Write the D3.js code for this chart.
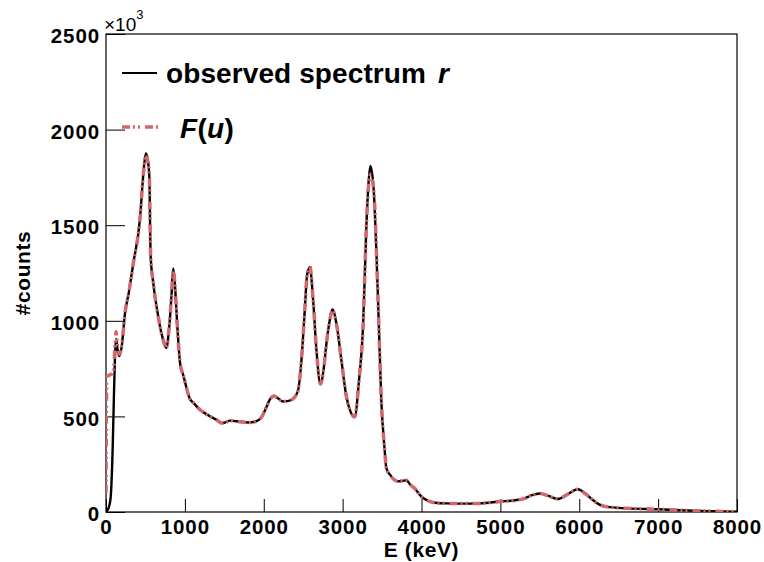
<!DOCTYPE html>
<html>
<head>
<meta charset="utf-8">
<script src="https://cdn.jsdelivr.net/npm/d3@7"></script>
<style>
  html, body { margin: 0; padding: 0; background: #ffffff; }
  svg { display: block; }
  text { font-family: "Liberation Sans", Arial, Helvetica, sans-serif; }
</style>
</head>
<body>
<div id="chart"></div>
<script>
// ---- data (energy in keV, counts in units of 10^3) ----
const energy = [0, 10, 40, 60, 85, 100, 114, 127, 150, 169, 199, 241, 290, 346, 430, 473, 505, 525, 549, 566,
  600, 663, 700, 740, 765, 800, 830, 853, 875, 903, 940, 980, 1020, 1060, 1106, 1200, 1300, 1400, 1465, 1520,
  1570, 1700, 1800, 1890, 1970, 2030, 2080, 2132, 2180, 2246, 2300, 2372, 2436, 2478, 2520, 2550, 2584, 2626, 2668, 2719,
  2760, 2795, 2840, 2870, 2921, 2984, 3048, 3100, 3153, 3208, 3259, 3301, 3331, 3352, 3394, 3449, 3490, 3533, 3554, 3600,
  3660, 3702, 3760, 3808, 3860, 3913, 4000, 4100, 4200, 4315, 4500, 4740, 5000, 5160, 5300, 5400, 5497, 5600, 5728, 5850,
  5982, 6080, 6172, 6250, 6341, 6600, 7016, 7440, 8000];

const observed = [0, 5, 30, 80, 340, 600, 812, 905, 840, 816, 865, 1040, 1150, 1300, 1530, 1765, 1875, 1850, 1760, 1340,
  1196, 1021, 940, 880, 858, 960, 1130, 1274, 1180, 980, 775, 715, 650, 595, 572, 532, 505, 482, 465, 470,
  478, 472, 468, 472, 495, 545, 590, 607, 595, 578, 580, 592, 638, 795, 1056, 1240, 1280, 1109, 847, 669,
  750, 882, 1010, 1060, 987, 795, 603, 525, 498, 690, 969, 1492, 1736, 1810, 1684, 1109, 586, 324, 230, 195,
  167, 160, 163, 166, 142, 124, 80, 55, 47, 45, 44, 45, 55, 60, 70, 88, 97, 86, 68, 92,
  119, 95, 63, 40, 28, 19, 14, 7, 2];

const fitted = [100, 708, 715, 720, 725, 760, 870, 943, 850, 826, 868, 1040, 1150, 1300, 1530, 1765, 1870, 1845, 1760, 1340,
  1196, 1021, 940, 880, 858, 960, 1130, 1265, 1180, 980, 775, 715, 650, 595, 572, 532, 505, 482, 465, 470,
  478, 472, 468, 472, 495, 545, 590, 607, 595, 578, 580, 592, 638, 795, 1056, 1240, 1285, 1109, 847, 669,
  750, 882, 1010, 1055, 987, 795, 603, 525, 498, 690, 969, 1492, 1720, 1765, 1684, 1109, 586, 324, 230, 195,
  167, 160, 163, 166, 142, 124, 80, 55, 47, 45, 44, 45, 55, 60, 70, 88, 97, 86, 68, 92,
  119, 95, 63, 40, 28, 19, 14, 7, 2];

const xTicks = [0, 1000, 2000, 3000, 4000, 5000, 6000, 7000, 8000];
const yTicks = [0, 500, 1000, 1500, 2000, 2500];
const legendLabels = ["observed spectrum", "F(u)"];

// ---- layout ----
const W = 764, H = 562;
const frame = { left: 106, top: 34, right: 737, bottom: 512 };

const svg = d3.select("#chart").append("svg")
  .attr("width", W).attr("height", H);

svg.append("rect").attr("width", W).attr("height", H).attr("fill", "#ffffff");

const x = d3.scaleLinear().domain([0, 8000]).range([frame.left, frame.right]);
const y = d3.scaleLinear().domain([0, 2500]).range([frame.bottom, frame.top]);

// clip
svg.append("clipPath").attr("id", "clip").append("rect")
  .attr("x", frame.left).attr("y", frame.top)
  .attr("width", frame.right - frame.left).attr("height", frame.bottom - frame.top);

// minor ticks
const xMinor = d3.range(0, 8001, 200).filter(v => v % 1000 !== 0);
const yMinor = d3.range(0, 2501, 100).filter(v => v % 500 !== 0);

const tickFont = 'bold 20.5px "Liberation Sans", Arial, Helvetica, sans-serif';

// x axis
const gx = svg.append("g").attr("transform", `translate(0,${frame.bottom})`);
gx.call(d3.axisBottom(x).tickValues(xMinor).tickSize(-6.5).tickFormat(""));
gx.call(d3.axisBottom(x).tickValues(xTicks).tickSize(-13).tickPadding(7).tickFormat(d3.format("d")));
gx.selectAll(".domain").remove();
gx.selectAll("line").attr("stroke", "#000").attr("stroke-width", 1);
gx.selectAll("text").style("font", tickFont).style("letter-spacing", "0.9px").attr("fill", "#000");

// y axis
const gy = svg.append("g").attr("transform", `translate(${frame.left},0)`);
gy.call(d3.axisLeft(y).tickValues(yMinor).tickSize(-10).tickFormat(""));
gy.call(d3.axisLeft(y).tickValues(yTicks).tickSize(-19).tickPadding(6).tickFormat(d3.format("d")));
gy.selectAll(".domain").remove();
gy.selectAll("line").attr("stroke", "#000").attr("stroke-width", 1);
gy.selectAll("text").style("font", tickFont).style("letter-spacing", "0.9px").attr("fill", "#000").attr("dy", "0.42em");

// frame
svg.append("rect")
  .attr("x", frame.left).attr("y", frame.top)
  .attr("width", frame.right - frame.left).attr("height", frame.bottom - frame.top)
  .attr("fill", "none").attr("stroke", "#000").attr("stroke-width", 1.2);

// x10^3 label
const mult = svg.append("text").attr("x", frame.left - 2).attr("y", 31)
  .style("font", '19px "Liberation Sans", Arial, Helvetica, sans-serif').attr("fill", "#000");
mult.append("tspan").text("\u00d710");
mult.append("tspan").attr("dy", -12).style("font-size", "13px").text("3");

// axis titles
svg.append("text")
  .attr("x", (frame.left + frame.right) / 2).attr("y", 557)
  .attr("text-anchor", "middle")
  .style("font", 'bold 21px "Liberation Sans", Arial, Helvetica, sans-serif')
  .style("letter-spacing", "0.6px")
  .text("E (keV)");

svg.append("text")
  .attr("transform", `translate(30,${(frame.top + frame.bottom) / 2}) rotate(-90)`)
  .attr("text-anchor", "middle")
  .style("font", 'bold 21px "Liberation Sans", Arial, Helvetica, sans-serif')
  .style("letter-spacing", "0.6px")
  .text("#counts");

// lines
const obsData = energy.map((e, i) => [e, observed[i]]);
const fitData = energy.map((e, i) => [e, fitted[i]]);

const line = d3.line().x(d => x(d[0])).y(d => y(d[1])).curve(d3.curveMonotoneX);

const plot = svg.append("g").attr("clip-path", "url(#clip)");
plot.append("path").datum(obsData).attr("d", line)
  .attr("fill", "none").attr("stroke", "#000").attr("stroke-width", 2.4)
  .attr("stroke-linejoin", "round");

const RED = "#d4676a";
const DASH = "8,3,2,3,2,5";
plot.append("path").datum(fitData).attr("d", line)
  .attr("fill", "none").attr("stroke", RED).attr("stroke-width", 3.5)
  .attr("stroke-dasharray", DASH).attr("stroke-linejoin", "round");

// legend
const legFont = 'bold 28px "Liberation Sans", Arial, Helvetica, sans-serif';
svg.append("line").attr("x1", 122).attr("x2", 157).attr("y1", 73).attr("y2", 73)
  .attr("stroke", "#000").attr("stroke-width", 2.2);
const t1 = svg.append("text").attr("x", 166).attr("y", 83).style("font", legFont)
  .style("letter-spacing", "0.1px").attr("fill", "#000");
t1.append("tspan").text(legendLabels[0] + " ");
t1.append("tspan").attr("dx", 4).style("font-style", "italic").text("r");

svg.append("line").attr("x1", 122).attr("x2", 159).attr("y1", 127).attr("y2", 127)
  .attr("stroke", RED).attr("stroke-width", 3.5).attr("stroke-dasharray", DASH);
const t2 = svg.append("text").attr("x", 180).attr("y", 138).style("font", legFont)
  .style("letter-spacing", "0.3px").attr("fill", "#000");
t2.append("tspan").style("font-style", "italic").text("F");
t2.append("tspan").text("(");
t2.append("tspan").style("font-style", "italic").text("u");
t2.append("tspan").text(")");
</script>
</body>
</html>
